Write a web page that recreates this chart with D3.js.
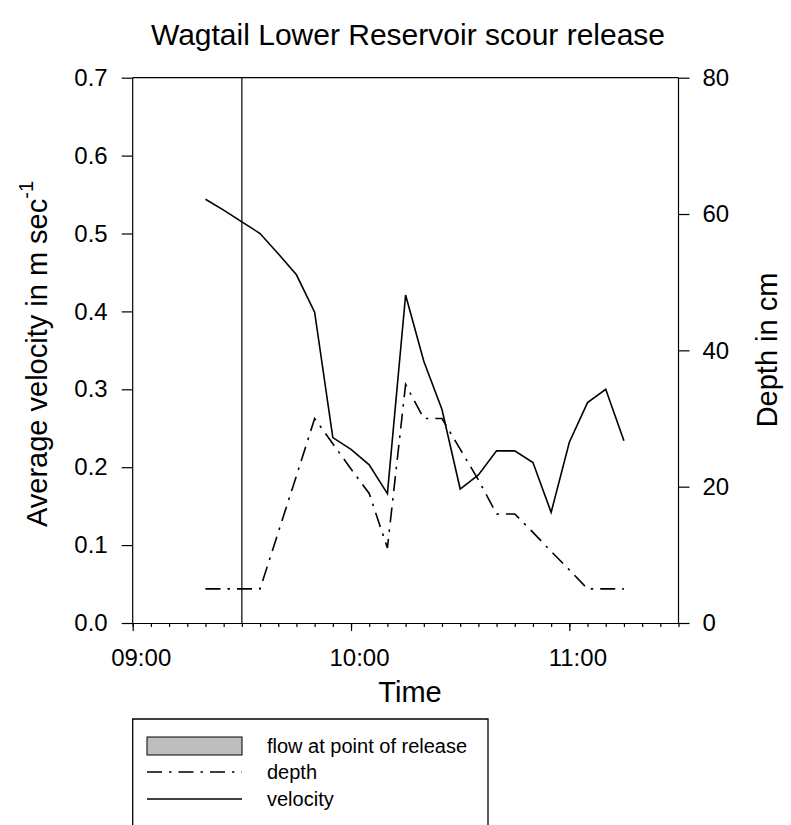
<!DOCTYPE html>
<html>
<head>
<meta charset="utf-8">
<script src="https://cdn.jsdelivr.net/npm/d3@7"></script>
<style>
  html, body { margin: 0; padding: 0; background: #fff; }
  svg { display: block; font-family: "Liberation Sans", Arial, Helvetica, sans-serif; }
</style>
</head>
<body>
<svg id="chart" width="791" height="825"></svg>
<script>
// ---- data ----
const times = ["09:20","09:25","09:30","09:35","09:40","09:45","09:50","09:55","10:00","10:05","10:10","10:15",
               "10:20","10:25","10:30","10:35","10:40","10:45","10:50","10:55","11:00","11:05","11:10","11:15"];
const velocity = [0.544,0.530,0.515,0.500,0.474,0.447,0.399,0.238,0.223,0.203,0.166,0.421,
                  0.336,0.274,0.172,0.190,0.221,0.221,0.206,0.142,0.232,0.283,0.300,0.234];
const depth = [5,5,5,5,13.3,21.6,30,26.3,22.6,19,11,35,
               30,30,25.5,21,16,16,13.3,10.5,7.8,5,5,5];
const releaseTime = "09:30";
const xDomain = ["09:00","11:30"];
const velTicks = [0,0.1,0.2,0.3,0.4,0.5,0.6,0.7];
const depthTicks = [0,20,40,60,80];
const legendLabels = ["flow at point of release","depth","velocity"];

const parse = d3.timeParse("%H:%M");
const svg = d3.select("#chart");
const L = 132.7, R = 678.5, T = 77.7, B = 623;
const x = d3.scaleTime().domain(xDomain.map(parse)).range([L, R]);
const yV = d3.scaleLinear().domain([0, 0.7]).range([B, T]);
const yD = d3.scaleLinear().domain([0, 80]).range([B, T]);

const fontMain = 24;

// frame
const axisColor = "#000";
svg.append("line").attr("x1", L).attr("x2", R).attr("y1", T).attr("y2", T).attr("stroke", axisColor).attr("stroke-width", 1.2);

// left axis
const gL = svg.append("g").attr("transform", `translate(${L},0)`)
  .call(d3.axisLeft(yV).tickValues(velTicks).tickFormat(d3.format(".1f")).tickSize(11).tickPadding(14));
// right axis
const gR = svg.append("g").attr("transform", `translate(${R},0)`)
  .call(d3.axisRight(yD).tickValues(depthTicks).tickFormat(d3.format("d")).tickSize(11).tickPadding(13));
// bottom axis minor
const gBm = svg.append("g").attr("transform", `translate(0,${B})`)
  .call(d3.axisBottom(x).ticks(d3.timeMinute.every(5)).tickFormat("").tickSize(4).tickSizeOuter(0));
// bottom axis major
const gB = svg.append("g").attr("transform", `translate(0,${B})`)
  .call(d3.axisBottom(x).ticks(d3.timeHour.every(1)).tickFormat(d3.timeFormat("%H:%M")).tickSize(8).tickSizeOuter(0).tickPadding(18));

[gL, gR, gBm, gB].forEach(g => {
  g.selectAll(".domain").attr("stroke", axisColor).attr("stroke-width", 1.2);
  g.selectAll(".tick line").attr("stroke", axisColor).attr("stroke-width", 1.2);
  g.selectAll("text").attr("font-size", fontMain).attr("fill", "#000")
    .attr("font-family", "'Liberation Sans', Arial, sans-serif");
});
gL.select(".domain").attr("d", `M0,${B}V${T}`);
gR.select(".domain").attr("d", `M0,${B}V${T}`);
gB.selectAll(".tick text").attr("dx", 8).attr("dy", "0.71em").attr("y", 26);

// release vertical line
svg.append("line")
  .attr("x1", x(parse(releaseTime))).attr("x2", x(parse(releaseTime)))
  .attr("y1", T).attr("y2", B).attr("stroke", "#000").attr("stroke-width", 1.2);

// lines
const dashPattern = "15,7,2.5,7";
const depthLine = d3.line().x((d, i) => x(parse(times[i]))).y(d => yD(d));
const velLine = d3.line().x((d, i) => x(parse(times[i]))).y(d => yV(d));
svg.append("path").datum(depth).attr("d", depthLine)
  .attr("fill", "none").attr("stroke", "#000").attr("stroke-width", 1.6).attr("stroke-dasharray", dashPattern);
svg.append("path").datum(velocity).attr("d", velLine)
  .attr("fill", "none").attr("stroke", "#000").attr("stroke-width", 1.6);

// title
svg.append("text").attr("x", 408).attr("y", 45).attr("text-anchor", "middle")
  .attr("font-size", 30).text("Wagtail Lower Reservoir scour release");

// x title
svg.append("text").attr("x", 410).attr("y", 702).attr("text-anchor", "middle")
  .attr("font-size", 29).text("Time");

// left y title
const yl = svg.append("text").attr("transform", "translate(47.3,354) rotate(-90)")
  .attr("text-anchor", "middle").attr("font-size", 29);
yl.append("tspan").text("Average velocity in m sec");
yl.append("tspan").attr("font-size", 20).attr("dy", -14).text("-1");

// right y title
svg.append("text").attr("transform", "translate(777,350) rotate(-90)")
  .attr("text-anchor", "middle").attr("font-size", 29).text("Depth in cm");

// legend
const lg = svg.append("g");
lg.append("path").attr("d", `M132.7,840V719H488V840`).attr("fill", "none").attr("stroke", "#000").attr("stroke-width", 1.3);
const rows = [746, 772, 799];
lg.append("rect").attr("x", 147).attr("y", 737).attr("width", 95).attr("height", 18)
  .attr("fill", "#bebebe").attr("stroke", "#000").attr("stroke-width", 1);
lg.append("line").attr("x1", 147).attr("x2", 242).attr("y1", rows[1]).attr("y2", rows[1])
  .attr("stroke", "#000").attr("stroke-width", 1.6).attr("stroke-dasharray", dashPattern);
lg.append("line").attr("x1", 147).attr("x2", 242).attr("y1", rows[2]).attr("y2", rows[2])
  .attr("stroke", "#000").attr("stroke-width", 1.6);
legendLabels.forEach((t, i) => {
  lg.append("text").attr("x", 267).attr("y", rows[i] + 7).attr("font-size", 20).text(t);
});
</script>
</body>
</html>
